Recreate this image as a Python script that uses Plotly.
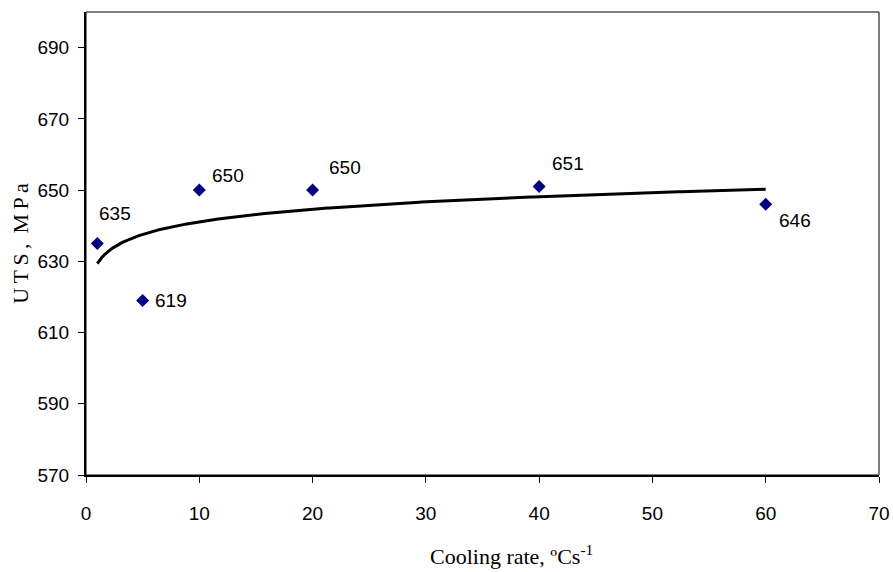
import numpy as np
import plotly.graph_objects as go

# Data
cooling_rate = [1, 5, 10, 20, 40, 60]
uts = [635, 619, 650, 650, 651, 646]
point_labels = ["635", "619", "650", "650", "651", "646"]
y_ticks = [570, 590, 610, 630, 650, 670, 690]
x_ticks = [0, 10, 20, 30, 40, 50, 60, 70]

# label offsets (pixels) relative to each point
label_dx = [0, 10, 11, 14, 11, 11]
label_dy = [30, 0, 15, 23, 23, -16]

# Logarithmic trendline (least-squares fit, as in the spreadsheet)
a, b = np.polyfit(np.log(cooling_rate), uts, 1)
xt = np.linspace(min(cooling_rate), max(cooling_rate), 300)
yt = a * np.log(xt) + b

sans = "Liberation Sans Narrow, Arial Narrow, Liberation Sans, Arial"
serif = "Liberation Serif, Times New Roman, serif"

fig = go.Figure()
fig.add_trace(go.Scatter(x=xt, y=yt, mode="lines",
                         line=dict(color="black", width=3), hoverinfo="skip"))
fig.add_trace(go.Scatter(x=cooling_rate, y=uts, mode="markers",
                         marker=dict(symbol="diamond", color="#000080", size=10)))

for xv, yv, lab, dx, dy in zip(cooling_rate, uts, point_labels, label_dx, label_dy):
    fig.add_annotation(x=xv, y=yv, text=lab, showarrow=False, xanchor="left",
                       yanchor="middle", xshift=dx, yshift=dy,
                       font=dict(family=sans, size=19, color="black"))

# x axis title
fig.add_annotation(xref="paper", yref="paper", x=0.537, y=-0.172, xanchor="center",
                   yanchor="middle", showarrow=False,
                   text="Cooling rate, ºCs<sup>-1</sup>",
                   font=dict(family=serif, size=22, color="black"))

ts = "\u2009"
ytitle = ts.join("UTS,") + " " + ts + ts.join("MPa")
# y axis title
fig.add_annotation(xref="paper", yref="paper", x=-0.083, y=0.5, xanchor="center",
                   yanchor="middle", showarrow=False, textangle=-90,
                   text=ytitle, font=dict(family=serif, size=22, color="black"))

fig.update_layout(
    width=893, height=572,
    margin=dict(l=86, r=14, t=12, b=97),
    plot_bgcolor="white", paper_bgcolor="white",
    showlegend=False,
    xaxis=dict(range=[0, 70], tickvals=x_ticks, ticks="outside", ticklen=6,
               tickcolor="black", showline=True, linecolor="black", linewidth=2,
               showgrid=False, zeroline=False, ticklabelstandoff=14, automargin=False,
               tickfont=dict(family=sans, size=19, color="black")),
    yaxis=dict(range=[570, 700], tickvals=y_ticks, ticks="outside", ticklen=6,
               tickcolor="black", showline=True, linecolor="black", linewidth=2,
               showgrid=False, zeroline=False, ticklabelstandoff=5, automargin=False,
               tickfont=dict(family=sans, size=19, color="black")),
    shapes=[dict(type="rect", xref="paper", yref="paper", x0=0, y0=0, x1=1, y1=1,
                 line=dict(color="black", width=1), layer="above")],
)

fig.write_html("out.html", config={"displayModeBar": False},
               post_script="document.body.style.margin='0';")
